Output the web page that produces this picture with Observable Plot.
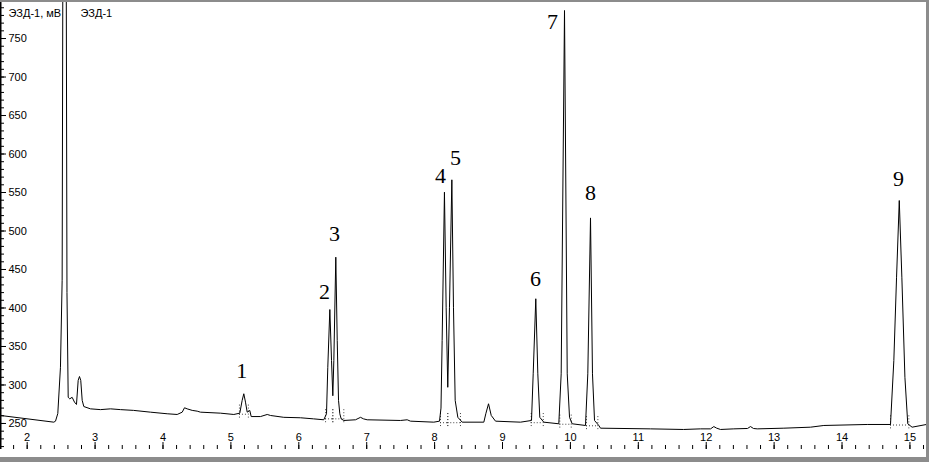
<!DOCTYPE html>
<html>
<head>
<meta charset="utf-8">
<script src="https://cdn.jsdelivr.net/npm/d3@7"></script>
<script src="https://cdn.jsdelivr.net/npm/@observablehq/plot@0.6"></script>
<style>
  html, body { margin: 0; padding: 0; background: #fff; }
  #frame {
    width: 926px; height: 455px;
    border-top: 2px solid #8c8c8c;
    border-right: 3px solid #8c8c8c;
    border-bottom: 5px solid #8c8c8c;
    overflow: hidden;
  }
  #frame svg { display: block; }
</style>
</head>
<body>
<div id="frame"></div>
<script>
// ---- Chromatogram trace (time, min ; signal, mV) ----
const traceTime = [
  1.607, 2.392, 2.417, 2.451, 2.490, 2.515, 2.524, 2.549, 2.576, 2.586, 2.604,
  2.627, 2.662, 2.697, 2.726, 2.751, 2.770, 2.789, 2.810, 2.834, 2.932, 3.080,
  3.227, 3.374, 3.566, 3.816, 4.062, 4.209, 4.283, 4.317, 4.356, 4.430, 4.504,
  4.552, 4.847, 5.043, 5.131, 5.166, 5.190, 5.215, 5.240, 5.278, 5.299, 5.436,
  5.535, 5.583, 5.779, 6.025, 6.216, 6.368, 6.408, 6.427, 6.457, 6.482, 6.501,
  6.516, 6.545, 6.566, 6.585, 6.604, 6.624, 6.663, 6.835, 6.909, 6.953, 7.007,
  7.498, 7.596, 7.645, 7.988, 8.072, 8.094, 8.111, 8.145, 8.170, 8.194, 8.219,
  8.254, 8.278, 8.303, 8.342, 8.406, 8.725, 8.754, 8.794, 8.834, 8.897, 9.265,
  9.427, 9.452, 9.490, 9.520, 9.549, 9.608, 9.829, 9.864, 9.913, 9.953, 9.987,
  10.026, 10.222, 10.256, 10.296, 10.325, 10.355, 10.418, 10.443, 11.180, 11.666,
  11.916, 12.064, 12.112, 12.152, 12.210, 12.406, 12.608, 12.652, 12.696, 12.751,
  13.143, 13.536, 13.732, 14.371, 14.714, 14.763, 14.803, 14.843, 14.881, 14.926,
  14.968, 15.032, 15.244
];
const traceMv = [
  260.4, 251.7, 253.0, 263.0, 323.0, 436.0, 800.0, 1400.0, 800.0, 420.0, 284.0,
  282.0, 284.0, 277.7, 274.7, 306.0, 311.0, 306.0, 280.0, 272.0, 269.0, 268.0,
  269.0, 268.0, 267.0, 264.7, 262.6, 261.7, 264.7, 270.4, 269.0, 267.0, 266.0,
  264.7, 263.4, 261.7, 263.4, 280.0, 288.6, 277.7, 264.7, 266.9, 259.0, 259.0,
  261.7, 260.4, 258.0, 257.4, 256.0, 254.8, 262.6, 323.0, 398.0, 331.8, 286.0,
  331.8, 466.0, 357.8, 280.0, 262.6, 256.0, 253.9, 254.8, 258.0, 256.0, 254.8,
  253.9, 254.8, 253.0, 251.7, 253.0, 270.0, 357.8, 550.4, 401.0, 297.0, 401.0,
  566.5, 401.0, 280.0, 258.0, 251.7, 251.7, 262.6, 275.6, 260.4, 253.0, 251.7,
  253.9, 314.5, 412.0, 314.5, 258.0, 251.7, 249.6, 314.5, 786.4, 314.5, 258.0,
  249.6, 247.4, 314.5, 517.0, 314.5, 253.9, 247.4, 243.9, 243.0, 242.2,
  243.0, 243.0, 246.0, 244.0, 242.2, 243.0, 243.5, 246.0, 243.5, 243.0,
  243.9, 245.2, 247.4, 248.7, 248.7, 331.8, 440.0, 539.6, 440.0, 310.0,
  249.6, 245.2, 248.7
];

// ---- Peak numbers and where they are written ----
const peakLabels = ["1", "2", "3", "4", "5", "6", "7", "8", "9"];
const labelTime  = [5.159, 6.378, 6.526, 8.087, 8.308, 9.486, 9.736, 10.296, 14.832];
const labelMv    = [318.8, 421.4, 496.8, 572.0, 595.5, 438.3, 772.0, 550.0, 568.0];

// ---- Integration marks (start / end of each peak window, baseline level) ----
const integStart = [5.126, 6.394, 6.501, 8.087, 8.194, 9.423, 9.844, 10.237, 14.714];
const integEnd   = [5.257, 6.501, 6.663, 8.194, 8.381, 9.600, 10.012, 10.404, 14.984];
const integBase  = [262, 256, 256, 251, 251, 251, 249, 247, 248];

// ---- Axis tick labels ----
const xTickLabels = [2, 3, 4, 5, 6, 7, 8, 9, 10, 11, 12, 13, 14, 15];
const yTickLabels = [250, 300, 350, 400, 450, 500, 550, 600, 650, 700, 750];
const yUnitLabel = "ЭЗД-1, мВ";
const seriesName = "ЭЗД-1";

const xDomain = [1.607, 15.244];
const yDomain = [216.2, 796.8];

const trace = traceTime.map((t, i) => ({t, v: traceMv[i]}));
const labels = peakLabels.map((s, i) => ({s, t: labelTime[i], v: labelMv[i]}));
const integ = integStart.map((s, i) => ({s, e: integEnd[i], b: integBase[i]}));
const integPoints = integ.flatMap(d => [{t: d.s, b: d.b}, {t: d.e, b: d.b}]);
const xMinor = d3.range(18, 153, 2).map(d => d / 10);
const yMinor = d3.range(220, 800, 10);

const axisFont = "'Liberation Sans Narrow', 'Liberation Sans', Arial, sans-serif";
const serif = "'Liberation Serif', 'Times New Roman', serif";

const chart = Plot.plot({
  width: 926,
  height: 455,
  marginLeft: 0,
  marginRight: 0,
  marginTop: 0,
  marginBottom: 8,
  x: {domain: xDomain, axis: null},
  y: {domain: yDomain, axis: null},
  marks: [
    // left axis line
    Plot.ruleX([xDomain[0]], {stroke: "#000", strokeWidth: 2}),
    // y ticks
    Plot.tickY(yMinor, {y: d => d, stroke: "#000", insetRight: 922}),
    Plot.tickY(yTickLabels, {y: d => d, stroke: "#000", insetRight: 920}),
    Plot.text(yTickLabels, {
      y: d => d, text: d => String(d), frameAnchor: "left", textAnchor: "start",
      dx: 8, fontSize: 11, fontFamily: axisFont, fill: "#000"
    }),
    // x ticks
    Plot.tickX(xMinor, {x: d => d, stroke: "#000", insetTop: 443}),
    Plot.tickX(xTickLabels, {x: d => d, stroke: "#000", insetTop: 440}),
    Plot.text(xTickLabels, {
      x: d => d, text: d => String(d), frameAnchor: "bottom", lineAnchor: "middle",
      dy: -12, fontSize: 11, fontFamily: axisFont, fill: "#000"
    }),
    // integration markers
    Plot.ruleY(integ, {y: "b", x1: "s", x2: "e", stroke: "#444", strokeDasharray: "1,2"}),
    Plot.ruleX(integPoints, {x: "t", y1: d => d.b - 5, y2: d => d.b + 12, stroke: "#444", strokeDasharray: "1,2"}),
    // chromatogram
    Plot.line(trace, {x: "t", y: "v", stroke: "#000", strokeWidth: 1, clip: true}),
    // peak numbers
    Plot.text(labels, {
      x: "t", y: "v", text: "s", fontSize: 22, fontFamily: serif, fill: "#000",
      lineAnchor: "middle"
    }),
    // header texts
    Plot.text([yUnitLabel], {
      text: d => d, frameAnchor: "top-left", textAnchor: "start", lineAnchor: "middle",
      dx: 8, dy: 10.5, fontSize: 11, fontFamily: axisFont, fill: "#000"
    }),
    Plot.text([seriesName], {
      text: d => d, frameAnchor: "top-left", textAnchor: "start", lineAnchor: "middle",
      dx: 80, dy: 10.5, fontSize: 11, fontFamily: axisFont, fill: "#000"
    })
  ]
});
document.getElementById("frame").appendChild(chart);
</script>
</body>
</html>
